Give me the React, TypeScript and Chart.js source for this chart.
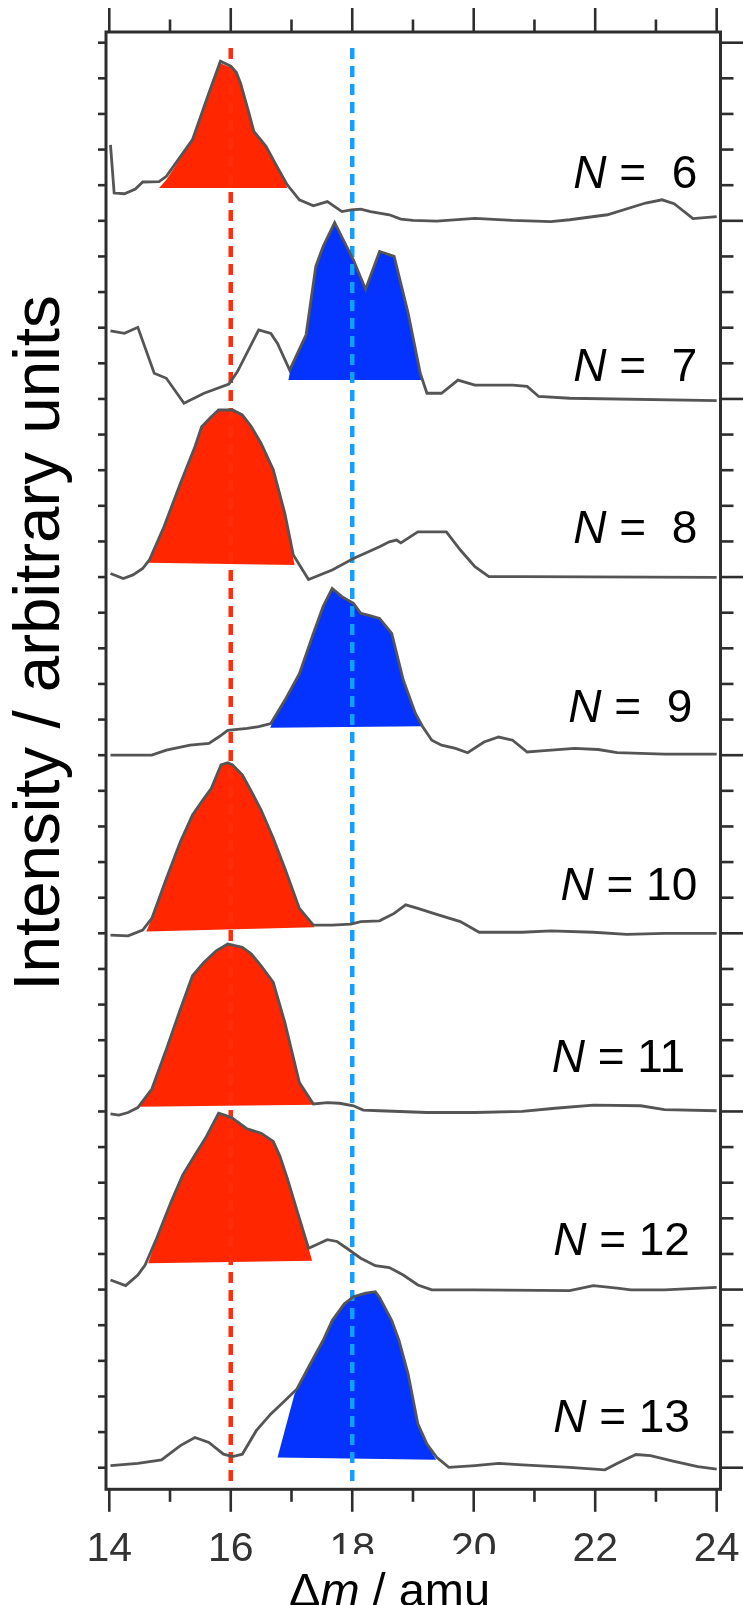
import React, { useEffect, useRef } from "react";
import { Chart, registerables } from "chart.js";

Chart.register(...registerables);

// ---------------- axes ----------------
const X_MIN = 13.946;
const X_MAX = 24.063;
const Y_MIN = -0.606;
const Y_MAX = 40.3;
const X_TICKS = [14, 16, 18, 20, 22, 24];
const X_MINOR_TICKS = [15, 17, 19, 21, 23];
const Y_TICKS = [0, 1, 2, 3, 4, 5, 6, 7, 8, 9, 10, 11, 12, 13, 14, 15, 16, 17, 18, 19, 20, 21, 22, 23, 24, 25, 26, 27, 28, 29, 30, 31, 32, 33, 34, 35, 36, 37, 38, 39, 40];
const Y_MAJOR_TICKS = [0, 5, 10, 15, 20, 25, 30, 35, 40];
const X_TITLE_PARTS = ["\u0394", "m", " / amu"];
const Y_TITLE = "Intensity / arbitrary units";

// ---------------- series ----------------
const N_VALUES = [6, 7, 8, 9, 10, 11, 12, 13];
const BASELINES = [35, 30, 25, 20, 15, 10, 5, 0];
const REF_LINES = [16, 18];
const REF_LINE_TOP = 39.85;

// traces (x in amu, y relative to each panel's baseline)
const X6 = [14.02, 14.08, 14.25, 14.43, 14.55, 14.82, 14.94, 15.37, 15.64, 15.83, 16.0, 16.09, 16.16, 16.3, 16.38, 16.58, 16.73, 16.93, 17.13, 17.36, 17.59, 17.67, 17.83, 17.98, 18.14, 18.3, 18.61, 18.8, 19.0, 19.39, 20.02, 20.64, 21.27, 21.58, 22.2, 22.83, 23.1, 23.3, 23.61, 24.0];
const Y6 = [2.13, 0.78, 0.76, 0.89, 1.09, 1.1, 1.25, 2.28, 3.59, 4.48, 4.34, 4.17, 3.87, 3.02, 2.51, 2.09, 1.62, 1.01, 0.59, 0.42, 0.54, 0.45, 0.26, 0.31, 0.33, 0.26, 0.17, 0.05, 0.01, -0.01, 0.07, 0.01, -0.02, 0.03, 0.17, 0.5, 0.59, 0.48, 0.06, 0.12];
const X7 = [14.02, 14.25, 14.47, 14.74, 14.94, 15.23, 15.56, 15.97, 16.11, 16.46, 16.66, 16.77, 16.97, 17.24, 17.4, 17.52, 17.71, 18.02, 18.22, 18.45, 18.69, 18.92, 19.12, 19.23, 19.47, 19.74, 20.02, 20.64, 20.88, 21.07, 21.58, 24.0];
const Y7 = [1.91, 1.84, 2.01, 0.72, 0.58, -0.12, 0.16, 0.42, 0.77, 1.94, 1.84, 1.56, 0.81, 1.8, 3.72, 4.28, 4.95, 3.9, 3.08, 4.14, 4.0, 2.41, 0.72, 0.16, 0.16, 0.53, 0.39, 0.39, 0.35, 0.07, 0.02, -0.05];
const X8 = [14.02, 14.23, 14.39, 14.55, 14.66, 14.9, 15.17, 15.41, 15.52, 15.68, 15.8, 16.03, 16.19, 16.34, 16.5, 16.7, 16.89, 17.03, 17.28, 17.67, 18.02, 18.45, 18.61, 18.73, 18.8, 19.08, 19.55, 19.78, 20.02, 20.25, 20.8, 24.0];
const Y8 = [0.1, -0.04, 0.06, 0.24, 0.48, 1.41, 2.63, 3.66, 4.22, 4.5, 4.69, 4.69, 4.55, 4.22, 3.75, 3.01, 1.79, 0.62, -0.07, 0.2, 0.52, 0.85, 0.99, 1.04, 0.96, 1.27, 1.27, 0.76, 0.29, 0.01, 0.01, -0.01];
const X9 = [14.02, 14.7, 14.94, 15.33, 15.64, 15.8, 15.95, 16.27, 16.46, 16.66, 16.89, 17.13, 17.36, 17.52, 17.67, 17.83, 18.02, 18.14, 18.26, 18.45, 18.65, 18.84, 19.04, 19.16, 19.31, 19.47, 19.7, 19.9, 20.17, 20.41, 20.64, 20.88, 21.11, 21.66, 22.05, 22.36, 23.14, 24.0];
const Y9 = [0.0, 0.0, 0.14, 0.28, 0.33, 0.51, 0.7, 0.75, 0.8, 0.89, 1.54, 2.29, 3.42, 4.17, 4.68, 4.45, 4.26, 3.98, 3.93, 3.84, 3.42, 2.11, 1.17, 0.8, 0.42, 0.28, 0.19, 0.07, 0.37, 0.51, 0.42, 0.09, 0.12, 0.19, 0.16, 0.07, 0.03, 0.03];
const X10 = [14.02, 14.31, 14.55, 14.7, 14.94, 15.17, 15.37, 15.56, 15.68, 15.84, 15.95, 16.03, 16.19, 16.34, 16.5, 16.7, 16.89, 17.13, 17.36, 17.67, 17.98, 18.14, 18.45, 18.69, 18.88, 19.08, 19.39, 19.78, 20.09, 20.8, 21.27, 21.97, 22.52, 23.14, 24.0];
const Y10 = [-0.05, -0.07, 0.09, 0.42, 1.54, 2.57, 3.32, 3.79, 4.07, 4.73, 4.79, 4.73, 4.45, 3.98, 3.46, 2.67, 1.83, 0.7, 0.23, 0.23, 0.26, 0.33, 0.35, 0.56, 0.8, 0.7, 0.53, 0.33, 0.03, 0.03, 0.07, 0.03, -0.03, 0.0, 0.0];
const X11 = [14.02, 14.16, 14.31, 14.47, 14.7, 14.94, 15.17, 15.37, 15.56, 15.76, 15.95, 16.19, 16.34, 16.5, 16.7, 16.89, 17.13, 17.36, 17.59, 17.79, 18.02, 18.18, 18.45, 19.23, 20.02, 20.8, 21.34, 21.97, 22.75, 23.14, 24.0];
const Y11 = [-0.07, -0.1, -0.03, 0.11, 0.63, 1.75, 2.87, 3.81, 4.19, 4.51, 4.7, 4.61, 4.42, 4.09, 3.62, 2.5, 0.81, 0.21, 0.25, 0.23, 0.16, 0.04, 0.02, -0.03, -0.03, 0.0, 0.09, 0.18, 0.16, 0.05, 0.02];
const X12 = [14.02, 14.27, 14.47, 14.59, 14.78, 15.02, 15.21, 15.41, 15.6, 15.8, 15.91, 16.03, 16.27, 16.5, 16.7, 16.81, 16.93, 17.13, 17.28, 17.4, 17.59, 17.75, 17.91, 18.14, 18.38, 18.61, 18.84, 19.08, 19.31, 20.02, 21.58, 21.97, 22.36, 22.59, 23.14, 24.0];
const Y12 = [0.27, 0.11, 0.41, 0.69, 1.44, 2.47, 3.22, 3.78, 4.3, 4.95, 4.89, 4.81, 4.51, 4.39, 4.16, 3.74, 3.13, 2.0, 1.16, 1.25, 1.4, 1.35, 1.16, 0.88, 0.67, 0.62, 0.41, 0.13, -0.01, -0.01, -0.03, 0.11, 0.04, -0.01, -0.01, 0.06];
const X13 = [14.02, 14.47, 14.86, 15.17, 15.41, 15.64, 15.88, 16.03, 16.19, 16.42, 16.66, 16.89, 17.09, 17.28, 17.52, 17.67, 17.87, 18.02, 18.22, 18.38, 18.45, 18.65, 18.77, 18.92, 19.08, 19.23, 19.39, 19.59, 20.02, 20.41, 20.8, 21.58, 22.16, 22.36, 22.67, 22.91, 23.3, 23.69, 24.0];
const Y13 = [0.06, 0.12, 0.22, 0.62, 0.85, 0.71, 0.38, 0.31, 0.38, 1.04, 1.51, 1.88, 2.21, 2.82, 3.57, 4.13, 4.6, 4.8, 4.9, 4.94, 4.78, 4.13, 3.57, 2.63, 1.23, 0.66, 0.29, 0.01, 0.06, 0.12, 0.08, 0.01, -0.06, 0.12, 0.37, 0.34, 0.18, 0.03, -0.04];

// shaded peak areas (outline, closed by a straight base)
const F6X = [14.82, 14.94, 15.37, 15.83, 16.0, 16.09, 16.16, 16.3, 16.38, 16.58, 16.9, 16.93];
const F6Y = [0.92, 1.15, 2.28, 4.42, 4.3, 4.13, 3.85, 3.0, 2.51, 2.09, 1.05, 0.92];
const F7X = [16.95, 16.98, 17.24, 17.4, 17.52, 17.71, 18.02, 18.22, 18.45, 18.69, 18.92, 19.14];
const F7Y = [0.53, 0.81, 1.8, 3.72, 4.28, 4.95, 3.9, 3.08, 4.14, 4.0, 2.41, 0.53];
const F8X = [14.63, 14.66, 14.9, 15.17, 15.41, 15.52, 15.68, 15.8, 16.03, 16.19, 16.34, 16.5, 16.7, 16.89, 17.05];
const F8Y = [0.4, 0.48, 1.41, 2.63, 3.66, 4.22, 4.5, 4.69, 4.69, 4.55, 4.22, 3.75, 3.01, 1.79, 0.34];
const F9X = [16.65, 16.7, 16.89, 17.13, 17.36, 17.52, 17.67, 17.83, 18.02, 18.14, 18.26, 18.45, 18.65, 18.84, 19.04, 19.14];
const F9Y = [0.77, 0.98, 1.54, 2.29, 3.42, 4.17, 4.68, 4.45, 4.26, 3.98, 3.93, 3.84, 3.42, 2.11, 1.17, 0.81];
const F10X = [14.61, 14.7, 14.94, 15.17, 15.37, 15.56, 15.68, 15.84, 15.95, 16.03, 16.19, 16.34, 16.5, 16.7, 16.89, 17.13, 17.38];
const F10Y = [0.05, 0.42, 1.54, 2.57, 3.32, 3.79, 4.07, 4.73, 4.79, 4.73, 4.45, 3.98, 3.46, 2.67, 1.83, 0.7, 0.17];
const F11X = [14.48, 14.7, 14.94, 15.17, 15.37, 15.56, 15.76, 15.95, 16.19, 16.34, 16.5, 16.7, 16.89, 17.13, 17.38];
const F11Y = [0.13, 0.63, 1.75, 2.87, 3.81, 4.19, 4.51, 4.7, 4.61, 4.42, 4.09, 3.62, 2.5, 0.81, 0.19];
const F12X = [14.64, 14.78, 15.02, 15.21, 15.41, 15.6, 15.8, 15.91, 16.03, 16.27, 16.5, 16.7, 16.81, 16.93, 17.13, 17.28, 17.34];
const F12Y = [0.74, 1.44, 2.47, 3.22, 3.78, 4.3, 4.95, 4.89, 4.81, 4.51, 4.39, 4.16, 3.74, 3.13, 2.0, 1.16, 0.81];
const F13X = [16.77, 17.05, 17.52, 17.67, 17.87, 18.02, 18.22, 18.38, 18.45, 18.65, 18.77, 18.92, 19.08, 19.23, 19.38];
const F13Y = [0.29, 2.07, 3.57, 4.13, 4.6, 4.8, 4.9, 4.94, 4.78, 4.13, 3.57, 2.63, 1.23, 0.66, 0.22];

const TRACE_X = [X6, X7, X8, X9, X10, X11, X12, X13];
const TRACE_Y = [Y6, Y7, Y8, Y9, Y10, Y11, Y12, Y13];
const FILL_X = [F6X, F7X, F8X, F9X, F10X, F11X, F12X, F13X];
const FILL_Y = [F6Y, F7Y, F8Y, F9Y, F10Y, F11Y, F12Y, F13Y];

// ---------------- styles / layout ----------------
const RED = "#ff2600";
const BLUE = "#0432ff";
const FILL_COLORS = [RED, BLUE, RED, BLUE, RED, RED, RED, BLUE];
const REF_COLORS = ["#ff2d0a", "#12a0ff"];
const TRACE_COLOR = "#555555";
const AXIS_COLOR = "#2e2e2e";
const FONT = '"Liberation Sans", Arial, Helvetica, sans-serif';
// label anchors (right edge x in amu, baseline y relative to panel baseline)
const LABEL_X = [23.68, 23.68, 23.68, 23.6, 23.68, 23.48, 23.56, 23.56];
const LABEL_Y = [0.91, 0.5, 0.95, 0.94, 0.94, 1.12, 0.97, 1.01];

const decorations = {
  id: "decorations",
  afterDraw(chart: any) {
    const { ctx, chartArea: a, scales } = chart;
    const xs = scales.x;
    const ys = scales.y;
    ctx.save();
    ctx.strokeStyle = AXIS_COLOR;
    ctx.lineCap = "butt";

    // ticks
    ctx.lineWidth = 2.6;
    const vline = (x: number, y1: number, y2: number) => {
      ctx.beginPath();
      ctx.moveTo(x, y1);
      ctx.lineTo(x, y2);
      ctx.stroke();
    };
    const hline = (y: number, x1: number, x2: number) => {
      ctx.beginPath();
      ctx.moveTo(x1, y);
      ctx.lineTo(x2, y);
      ctx.stroke();
    };
    X_TICKS.forEach((v) => {
      const px = xs.getPixelForValue(v);
      vline(px, a.top, a.top - 24);
      vline(px, a.bottom, a.bottom + 22.5);
    });
    X_MINOR_TICKS.forEach((v) => {
      const px = xs.getPixelForValue(v);
      vline(px, a.top, a.top - 12.5);
      vline(px, a.bottom, a.bottom + 12.5);
    });
    Y_TICKS.forEach((v) => {
      const py = ys.getPixelForValue(v);
      hline(py, a.left, a.left - 8);
      const major = Y_MAJOR_TICKS.indexOf(v) >= 0;
      hline(py, a.right, a.right + (major ? 26 : 13));
    });

    // frame
    ctx.lineWidth = 3;
    ctx.strokeRect(a.left, a.top, a.right - a.left, a.bottom - a.top);

    // N labels
    ctx.fillStyle = "#000";
    ctx.textBaseline = "alphabetic";
    N_VALUES.forEach((n, i) => {
      const right = xs.getPixelForValue(LABEL_X[i]);
      const base = ys.getPixelForValue(BASELINES[i] + LABEL_Y[i]);
      const rest = n < 10 ? " =  " + n : " = " + n;
      ctx.font = "46px " + FONT;
      const wRest = ctx.measureText(rest).width;
      ctx.font = "italic 46px " + FONT;
      const wN = ctx.measureText("N").width;
      ctx.textAlign = "left";
      ctx.fillText("N", right - wRest - wN, base);
      ctx.font = "46px " + FONT;
      ctx.fillText(rest, right - wRest, base);
    });

    // x title with white label box
    ctx.fillStyle = "#fff";
    ctx.fillRect(322, 1554, 180, 60);
    ctx.fillStyle = "#000";
    ctx.textAlign = "left";
    let tx = 289;
    const ty = 1606;
    X_TITLE_PARTS.forEach((part, k) => {
      ctx.font = (k === 1 ? "italic " : "") + "47px " + FONT;
      ctx.fillText(part, tx, ty);
      tx += ctx.measureText(part).width;
    });

    // y title
    ctx.translate(41, 643);
    ctx.rotate(-Math.PI / 2);
    ctx.font = "65.5px " + FONT;
    ctx.textAlign = "center";
    ctx.textBaseline = "middle";
    ctx.fillText(Y_TITLE, 0, 0);
    ctx.restore();
  },
};

export default function App() {
  const ref = useRef<HTMLCanvasElement | null>(null);

  useEffect(() => {
    document.body.style.margin = "0";
    const canvas = ref.current;
    if (!canvas) return;

    const datasets: any[] = [];
    N_VALUES.forEach((n, i) => {
      datasets.push({
        label: "peak N=" + n,
        data: FILL_X[i].map((x, k) => ({ x, y: BASELINES[i] + FILL_Y[i][k] })),
        fill: "shape",
        backgroundColor: FILL_COLORS[i],
        borderColor: "rgba(0,0,0,0)",
        borderWidth: 0,
        pointRadius: 0,
        order: 3,
      });
    });
    REF_LINES.forEach((x, i) => {
      datasets.push({
        label: "ref " + x,
        data: [
          { x, y: REF_LINE_TOP },
          { x, y: Y_MIN },
        ],
        borderColor: REF_COLORS[i],
        borderWidth: 4.5,
        borderDash: [11, 7],
        pointRadius: 0,
        fill: false,
        order: 2,
      });
    });
    N_VALUES.forEach((n, i) => {
      datasets.push({
        label: "N=" + n,
        data: TRACE_X[i].map((x, k) => ({ x, y: BASELINES[i] + TRACE_Y[i][k] })),
        borderColor: TRACE_COLOR,
        borderWidth: 2.8,
        pointRadius: 0,
        fill: false,
        order: 1,
      });
    });

    const chart = new Chart(canvas, {
      type: "line",
      data: { datasets },
      options: {
        animation: false,
        responsive: false,
        devicePixelRatio: 1,
        layout: { padding: { left: 106, top: 32, right: 22.5, bottom: 0 } },
        plugins: { legend: { display: false }, tooltip: { enabled: false } },
        elements: { line: { tension: 0 } },
        scales: {
          x: {
            type: "linear",
            position: "bottom",
            min: X_MIN,
            max: X_MAX,
            grid: { display: false, drawTicks: false },
            border: { display: false },
            ticks: {
              font: { family: FONT, size: 41, lineHeight: 1 },
              color: "#333",
              padding: 40,
              maxRotation: 0,
              autoSkip: false,
              includeBounds: false,
            },
            afterBuildTicks: (s: any) => {
              s.ticks = X_TICKS.map((v) => ({ value: v }));
            },
            afterFit: (s: any) => {
              s.height = 115.7;
              s.paddingLeft = 0;
              s.paddingRight = 0;
            },
          },
          y: {
            type: "linear",
            min: Y_MIN,
            max: Y_MAX,
            display: false,
          },
        },
      },
      plugins: [decorations],
    } as any);

    return () => chart.destroy();
  }, []);

  return <canvas ref={ref} width={743} height={1605} style={{ display: "block" }} />;
}
